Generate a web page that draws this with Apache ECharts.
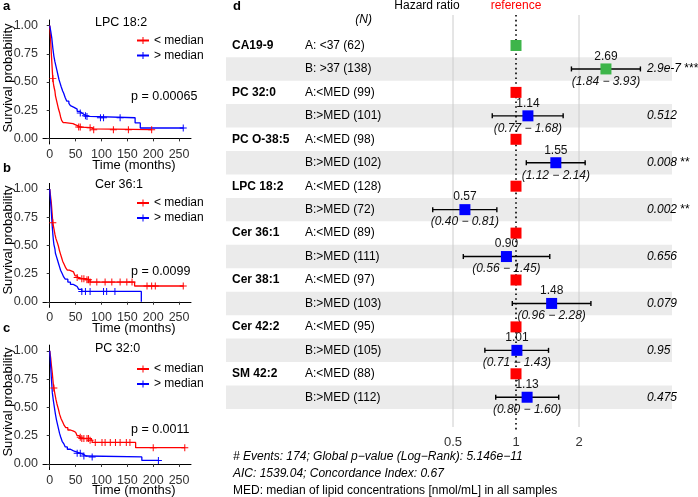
<!DOCTYPE html>
<html><head><meta charset="utf-8">
<script src="https://cdn.jsdelivr.net/npm/echarts@6/dist/echarts.min.js"></script>
<style>html,body{margin:0;padding:0;background:#fff}#c{width:698px;height:497px}</style>
</head><body><div id="c"></div>
<script>
// ---------- Kaplan-Meier panels (a, b, c) ----------
const kmTitles = ['LPC 18:2', 'Cer 36:1', 'PC 32:0'];
const kmPvalues = ['p = 0.00065', 'p = 0.0099', 'p = 0.0011'];
const kmLegend = ['< median', '> median'];
const kmTimeTicks = [0, 50, 100, 150, 200, 250];
const kmSurvTicks = [0, 0.25, 0.5, 0.75, 1];

const lpcLow = [[0,1],[1,0.93],[2,0.85],[3,0.76],[4,0.68],[5,0.6],[6,0.53],[7,0.49],[8,0.46],[10,0.42],[11,0.38],[13,0.34],[15,0.3],[17,0.26],[19,0.23],[21,0.19],[23,0.16],[26,0.14],[30,0.13],[45,0.12],[50,0.11],[55,0.1],[60,0.095],[80,0.085],[85,0.077],[197,0.077]];
const lpcHigh = [[0,1],[2,0.95],[4,0.89],[6,0.8],[8,0.73],[10,0.68],[12,0.64],[14,0.6],[16,0.56],[18,0.52],[20,0.49],[22,0.46],[25,0.42],[27,0.4],[30,0.36],[33,0.33],[37,0.31],[40,0.29],[43,0.275],[47,0.26],[53,0.24],[58,0.225],[62,0.21],[67,0.2],[72,0.195],[78,0.183],[165,0.137],[175,0.092],[258,0.092]];
const lpcLowCens = [6,56,59,78,85,123,152,197];
const lpcHighCens = [59,69,72,98,104,136,258];

const cerLow = [[0,1],[1,0.96],[2,0.92],[3,0.88],[4,0.82],[5,0.76],[6,0.7],[8,0.65],[10,0.6],[12,0.56],[15,0.52],[17,0.49],[19,0.45],[21,0.42],[23,0.39],[25,0.36],[28,0.33],[31,0.3],[34,0.28],[38,0.265],[46,0.255],[49,0.23],[53,0.215],[56,0.205],[68,0.195],[78,0.175],[164,0.14],[258,0.14]];
const cerHigh = [[0,1],[1,0.93],[2,0.87],[3,0.8],[4,0.73],[5,0.66],[6,0.6],[7,0.55],[8,0.51],[10,0.47],[11,0.43],[13,0.4],[15,0.37],[17,0.34],[19,0.31],[21,0.28],[24,0.25],[27,0.22],[30,0.2],[35,0.175],[40,0.155],[45,0.145],[49,0.135],[53,0.12],[56,0.11],[62,0.092],[177,0]];
const cerLowCens = [6,53,62,66,72,75,78,91,107,120,136,149,159,188,197,204,258];
const cerHighCens = [62,69,78,104,110,126];

const pcLow = [[0,1],[2,0.93],[3,0.88],[5,0.8],[6,0.75],[7,0.7],[8,0.67],[10,0.62],[12,0.57],[14,0.53],[17,0.48],[19,0.44],[22,0.4],[25,0.37],[28,0.34],[31,0.32],[35,0.3],[40,0.29],[46,0.28],[50,0.265],[53,0.25],[57,0.235],[60,0.225],[78,0.21],[82,0.19],[166,0.144],[261,0.144]];
const pcHigh = [[0,1],[1,0.93],[2,0.85],[3,0.77],[4,0.7],[5,0.63],[7,0.56],[9,0.5],[11,0.44],[13,0.39],[15,0.35],[17,0.31],[19,0.27],[21,0.24],[24,0.2],[27,0.18],[30,0.15],[34,0.13],[40,0.115],[46,0.105],[53,0.094],[60,0.082],[66,0.07],[70,0.062],[178,0.031],[210,0.031]];
const pcLowCens = [8,59,62,66,72,75,78,88,101,107,117,127,136,148,155,200,261];
const pcHighCens = [53,59,66,82,210];

// ---------- Forest plot (d) ----------
const forestVars = ['CA19-9','PC 32:0','PC O-38:5','LPC 18:2','Cer 36:1','Cer 38:1','Cer 42:2','SM 42:2'];
const groupA = ['A: <37 (62)','A:<MED (99)','A:<MED (98)','A:<MED (128)','A:<MED (89)','A:<MED (97)','A:<MED (95)','A:<MED (88)'];
const groupB = ['B: >37 (138)','B:>MED (101)','B:>MED (102)','B:>MED (72)','B:>MED (111)','B:>MED (103)','B:>MED (105)','B:>MED (112)'];
const hazard = [2.69, 1.14, 1.55, 0.57, 0.90, 1.48, 1.01, 1.13];
const ciLow = [1.84, 0.77, 1.12, 0.40, 0.56, 0.96, 0.71, 0.80];
const ciHigh = [3.93, 1.68, 2.14, 0.81, 1.45, 2.28, 1.43, 1.60];
const pValues = ['2.9e-7','0.512','0.008','0.002','0.656','0.079','0.95','0.475'];
const pStars = ['***','','**','**','','','',''];
const hrTicks = [0.5, 1, 2];
const hrGridLines = [0.5, 2];
const hrReference = 1;
const footerLines = ['# Events: 174; Global p\u2212value (Log\u2212Rank): 5.146e\u221211', 'AIC: 1539.04; Concordance Index: 0.67', 'MED: median of lipid concentrations [nmol/mL] in all samples'];

const FF = '"Liberation Sans", Arial, Helvetica, sans-serif';
const RED = '#ff0000', BLUE = '#0000ff', GREEN = '#3db54a';
const PLUS = 'path://M0,4.3H10V5.7H0Z M4.3,0H5.7V10H4.3Z';

function survAt(curve, t) { let s = 1; for (const p of curve) { if (p[0] <= t) s = p[1]; } return s; }
function censorPts(curve, times) { return times.map(t => [t, survAt(curve, t)]); }

const kmPanels = [
  { low: lpcLow, high: lpcHigh, lowC: lpcLowCens, highC: lpcHighCens },
  { low: cerLow, high: cerHigh, lowC: cerLowCens, highC: cerHighCens },
  { low: pcLow, high: pcHigh, lowC: pcLowCens, highC: pcHighCens }
];
const kmGrids = [
  { left: 43, top: 20, width: 148, height: 124 },
  { left: 43, top: 183.4, width: 148, height: 124 },
  { left: 43, top: 345.1, width: 148, height: 124.5 }
];
const legendTops = [28.5, 191, 357];
const titleY = [23, 185, 349];
const pY = [97, 272, 430];
const xNameY = [165, 328, 490];
const yNameY = [78, 240, 402];
const letterY = [6, 168, 328];

const grid = kmGrids.concat([{ left: 226, top: 14, width: 446, height: 416 }]);
const xAxis = [], yAxis = [], series = [], legend = [], graphic = [];

kmPanels.forEach((p, i) => {
  xAxis.push({
    gridIndex: i, type: 'value', min: -13, max: 273,
    axisLine: { lineStyle: { color: '#000', width: 1 } },
    axisTick: { length: 3, lineStyle: { color: '#333' }, customValues: kmTimeTicks },
    axisLabel: { customValues: kmTimeTicks, color: '#333', fontSize: 12.5, margin: 4, fontFamily: FF },
    splitLine: { show: false }
  });
  yAxis.push({
    gridIndex: i, type: 'value', min: -0.05, max: 1.05,
    axisLine: { show: true, lineStyle: { color: '#000', width: 1 } },
    axisTick: { show: true, length: 3, lineStyle: { color: '#333' }, customValues: kmSurvTicks },
    axisLabel: { customValues: kmSurvTicks, color: '#333', fontSize: 12.5, margin: 5, fontFamily: FF, formatter: v => Number(v).toFixed(2) },
    splitLine: { show: false }
  });
  [['low', RED, kmLegend[0]], ['high', BLUE, kmLegend[1]]].forEach(([key, col, nm]) => {
    series.push({
      type: 'line', name: nm, xAxisIndex: i, yAxisIndex: i, data: p[key], step: 'end',
      showSymbol: false, symbol: PLUS, symbolSize: 7, color: col,
      lineStyle: { color: col, width: 1.3 }, itemStyle: { color: col, opacity: 1 }, animation: false, silent: true, z: 3
    });
    series.push({
      type: 'scatter', name: 'censor-' + key + i, xAxisIndex: i, yAxisIndex: i,
      data: censorPts(p[key], p[key + 'C']), symbol: PLUS, symbolSize: 7,
      itemStyle: { color: col, opacity: 1 }, animation: false, silent: true, z: 4
    });
  });
  legend.push({
    data: kmLegend, orient: 'vertical', left: 131, top: legendTops[i],
    itemWidth: 12, itemHeight: 9, itemGap: 1, selectedMode: false,
    textStyle: { fontSize: 12, lineHeight: 14, fontFamily: FF, color: '#000' }
  });
  graphic.push({ type: 'text', x: 95, y: titleY[i], style: { text: kmTitles[i], font: '12.5px ' + FF, fill: '#000', verticalAlign: 'middle' } });
  graphic.push({ type: 'text', x: 131, y: pY[i], style: { text: kmPvalues[i], font: '12.5px ' + FF, fill: '#000', verticalAlign: 'middle' } });
  graphic.push({ type: 'text', x: 134, y: xNameY[i], style: { text: 'Time (months)', font: '13px ' + FF, fill: '#000', align: 'center', verticalAlign: 'middle' } });
  graphic.push({ type: 'text', x: 8, y: yNameY[i], rotation: Math.PI / 2, style: { text: 'Survival probability', font: '13px ' + FF, fill: '#000', align: 'center', verticalAlign: 'middle' } });
  graphic.push({ type: 'text', x: 3, y: letterY[i], style: { text: ['a','b','c'][i], font: 'bold 13px ' + FF, fill: '#000', verticalAlign: 'middle' } });
});

// forest axes
xAxis.push({
  gridIndex: 3, type: 'log', logBase: 2, min: Math.pow(2, -4.603), max: Math.pow(2, 2.476),
  axisLine: { show: false }, axisTick: { show: false }, splitLine: { show: false },
  axisLabel: { customValues: hrTicks, formatter: v => String(+Number(v).toFixed(2)), fontSize: 13, color: '#333', margin: 6, fontFamily: FF }
});
yAxis.push({ gridIndex: 3, type: 'value', inverse: true, min: -1.343, max: 16.397, show: false });

const bandRows = forestVars.map((v, k) => 2 * k + 1);
const allRows = [];
forestVars.forEach((v, k) => { allRows.push([2 * k]); allRows.push([2 * k + 1]); });

// bands
series.push({
  type: 'custom', xAxisIndex: 3, yAxisIndex: 3, z: 1, silent: true, animation: false,
  data: bandRows.map(r => [r]),
  renderItem(params, api) {
    const r = api.value(0), cs = params.coordSys;
    const y0 = api.coord([1, r - 0.5])[1], y1 = api.coord([1, r + 0.5])[1];
    return { type: 'rect', shape: { x: cs.x, y: Math.min(y0, y1), width: cs.width, height: Math.abs(y1 - y0) }, style: { fill: '#ebebeb' } };
  }
});
// grey vertical grid lines
series.push({
  type: 'custom', xAxisIndex: 3, yAxisIndex: 3, z: 1.5, silent: true, animation: false,
  data: hrGridLines.map(v => [v]),
  renderItem(params, api) {
    const cs = params.coordSys, x = api.coord([api.value(0), 0])[0];
    return { type: 'line', shape: { x1: x, y1: cs.y + 1, x2: x, y2: cs.y + cs.height - 3 }, style: { stroke: '#cccccc', lineWidth: 1 } };
  }
});
// row texts
series.push({
  type: 'custom', xAxisIndex: 3, yAxisIndex: 3, z: 2, silent: true, animation: false,
  data: allRows,
  renderItem(params, api) {
    const r = api.value(0), cs = params.coordSys, k = Math.floor(r / 2);
    const y = api.coord([1, r])[1];
    const ch = [];
    if (r % 2 === 0) {
      ch.push({ type: 'text', x: cs.x + 6, y, style: { text: forestVars[k], font: 'bold 12px ' + FF, fill: '#000', verticalAlign: 'middle' } });
      ch.push({ type: 'text', x: cs.x + 79, y, style: { text: groupA[k], font: '12px ' + FF, fill: '#000', verticalAlign: 'middle' } });
    } else {
      ch.push({ type: 'text', x: cs.x + 79, y, style: { text: groupB[k], font: '12px ' + FF, fill: '#000', verticalAlign: 'middle' } });
      ch.push({ type: 'text', x: cs.x + 421, y, style: {
        text: '{p|' + pValues[k] + '}' + (pStars[k] ? ' {s|' + pStars[k] + '}' : ''),
        rich: { p: { fontStyle: 'italic', fontSize: 12, fontFamily: FF, fill: '#000' }, s: { fontSize: 12, fontFamily: FF, fill: '#000' } },
        font: '12px ' + FF, fill: '#000', verticalAlign: 'middle' } });
    }
    return { type: 'group', children: ch };
  }
});
// HR and CI labels
series.push({
  type: 'custom', xAxisIndex: 3, yAxisIndex: 3, z: 2, silent: true, animation: false,
  data: hazard.map((h, k) => [h, 2 * k + 1, ciLow[k], ciHigh[k]]),
  renderItem(params, api) {
    const p = api.coord([api.value(0), api.value(1)]);
    return { type: 'group', children: [
      { type: 'text', x: p[0], y: p[1] - 12.5, style: { text: api.value(0).toFixed(2), font: '12px ' + FF, fill: '#111', align: 'center', verticalAlign: 'middle' } },
      { type: 'text', x: p[0], y: p[1] + 12.5, style: { text: '(' + api.value(2).toFixed(2) + ' \u2212 ' + api.value(3).toFixed(2) + ')', font: 'italic 12px ' + FF, fill: '#111', align: 'center', verticalAlign: 'middle' } }
    ] };
  }
});
// dotted reference line
series.push({
  type: 'custom', xAxisIndex: 3, yAxisIndex: 3, z: 3, silent: true, animation: false,
  data: [[hrReference]],
  renderItem(params, api) {
    const cs = params.coordSys, x = api.coord([api.value(0), 0])[0];
    return { type: 'line', shape: { x1: x, y1: cs.y + 1, x2: x, y2: cs.y + cs.height + 2 }, style: { stroke: '#000', lineWidth: 1.6, lineDash: [1.6, 3.2] } };
  }
});
// reference squares (group A)
series.push({
  type: 'scatter', xAxisIndex: 3, yAxisIndex: 3, z: 4, silent: true, animation: false,
  symbol: 'rect', symbolSize: 11, itemStyle: { opacity: 1 },
  data: forestVars.map((v, k) => ({ value: [hrReference, 2 * k], itemStyle: { color: k === 0 ? GREEN : RED, opacity: 1 } }))
});
// error bars + squares (group B)
series.push({
  type: 'custom', xAxisIndex: 3, yAxisIndex: 3, z: 4, silent: true, animation: false,
  data: hazard.map((h, k) => [h, 2 * k + 1, ciLow[k], ciHigh[k], k]),
  renderItem(params, api) {
    const r = api.value(1), k = api.value(4);
    const p = api.coord([api.value(0), r]), pl = api.coord([api.value(2), r]), ph = api.coord([api.value(3), r]);
    const st = { stroke: '#000', lineWidth: 1.4 };
    return { type: 'group', children: [
      { type: 'line', shape: { x1: pl[0], y1: pl[1], x2: ph[0], y2: ph[1] }, style: st },
      { type: 'line', shape: { x1: pl[0], y1: pl[1] - 2.5, x2: pl[0], y2: pl[1] + 2.5 }, style: st },
      { type: 'line', shape: { x1: ph[0], y1: ph[1] - 2.5, x2: ph[0], y2: ph[1] + 2.5 }, style: st },
      { type: 'rect', shape: { x: p[0] - 5.5, y: p[1] - 5.5, width: 11, height: 11 }, style: { fill: k === 0 ? GREEN : BLUE } }
    ] };
  }
});

// forest headers and footer
graphic.push({ type: 'text', x: 233, y: 6, style: { text: 'd', font: 'bold 13px ' + FF, fill: '#000', verticalAlign: 'middle' } });
graphic.push({ type: 'text', x: 427, y: 6, style: { text: 'Hazard ratio', font: '12px ' + FF, fill: '#000', align: 'center', verticalAlign: 'middle' } });
graphic.push({ type: 'text', x: 516, y: 6, style: { text: 'reference', font: '12px ' + FF, fill: '#ff0000', align: 'center', verticalAlign: 'middle' } });
graphic.push({ type: 'text', x: 372, y: 20, style: { text: '(N)', font: 'italic 12px ' + FF, fill: '#000', align: 'right', verticalAlign: 'middle' } });
footerLines.forEach((t, i) => {
  graphic.push({ type: 'text', x: 233, y: 457 + 17 * i, style: { text: t, font: (i < 2 ? 'italic ' : '') + '12px ' + FF, fill: '#000', verticalAlign: 'middle' } });
});

const chart = echarts.init(document.getElementById('c'), null, { renderer: 'canvas' });
chart.setOption({
  animation: false, backgroundColor: '#fff',
  textStyle: { fontFamily: FF },
  grid, xAxis, yAxis, series, legend, graphic
});
</script></body></html>
